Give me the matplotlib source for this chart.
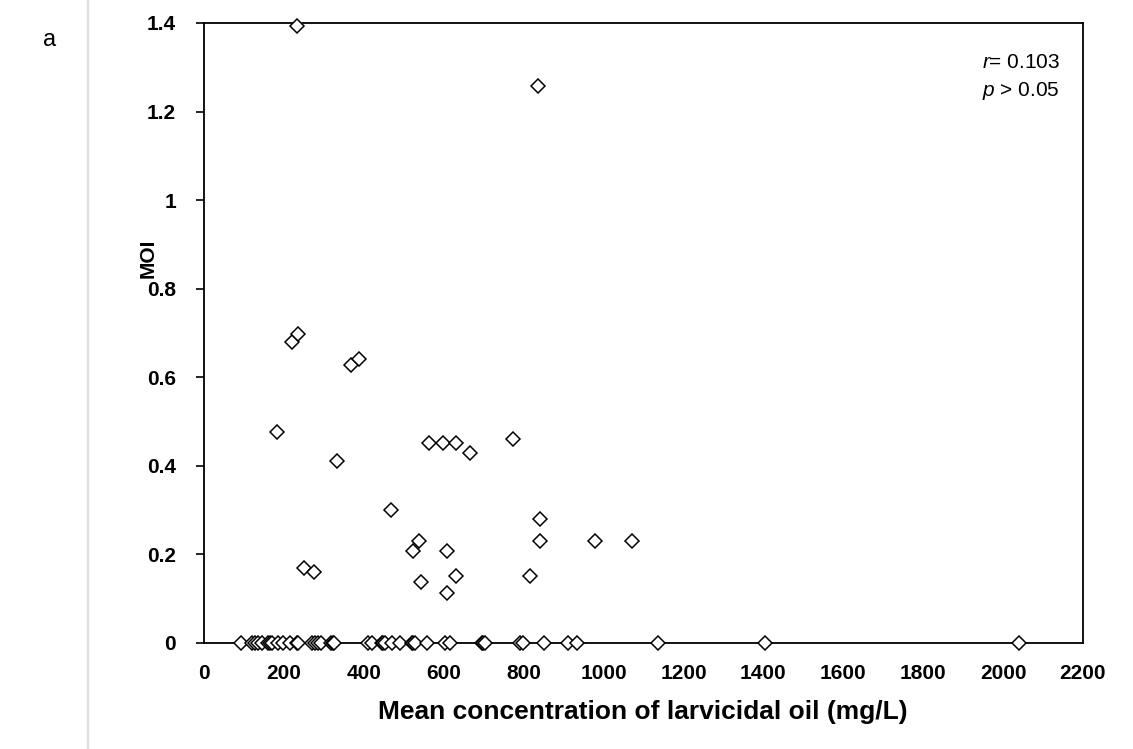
import matplotlib
matplotlib.use("Agg")
import matplotlib.pyplot as plt
from matplotlib.lines import Line2D

plt.rcParams['font.family'] = ['Liberation Sans', 'DejaVu Sans']
plt.rcParams['mathtext.fontset'] = 'custom'
plt.rcParams['mathtext.rm'] = 'Liberation Sans'
plt.rcParams['mathtext.it'] = 'Liberation Sans:italic'

# Non-zero MOI observations
conc_pos = [232, 836, 220, 235, 367, 387, 182, 334, 562, 597, 631, 667, 773,
            469, 537, 524, 607, 250, 275, 543, 631, 607, 816, 841, 841, 978, 1071]
moi_pos = [1.393, 1.258, 0.680, 0.698, 0.628, 0.641, 0.477, 0.411, 0.452, 0.452, 0.452, 0.430, 0.460,
           0.301, 0.231, 0.208, 0.208, 0.169, 0.160, 0.137, 0.151, 0.112, 0.151, 0.279, 0.231, 0.231, 0.231]

# Zero MOI observations
conc_zero = [92, 119, 128, 136, 144, 160, 165, 170, 186, 198, 215, 232, 236, 270, 278, 286, 294,
             318, 322, 325, 411, 420, 445, 449, 453, 470, 491, 520, 524, 528, 557, 603, 616,
             695, 699, 703, 791, 799, 851, 910, 934, 1137, 1405, 2040]
moi_zero = [0.0] * len(conc_zero)

xticks = [0, 200, 400, 600, 800, 1000, 1200, 1400, 1600, 1800, 2000, 2200]
yticks = [0, 0.2, 0.4, 0.6, 0.8, 1.0, 1.2, 1.4]
ytick_labels = ['0', '0.2', '0.4', '0.6', '0.8', '1', '1.2', '1.4']

W, H = 1133, 749
fig = plt.figure(figsize=(W / 100, H / 100), dpi=100)
ax = fig.add_axes([204 / W, 1 - 643 / H, (1083 - 204) / W, (643 - 23) / H])

x_all = conc_zero + conc_pos
y_all = moi_zero + moi_pos
ax.plot(x_all, y_all, linestyle='none', marker='D', markersize=7,
        markerfacecolor='white', markeredgecolor='black', markeredgewidth=1.1,
        clip_on=False, zorder=3)

ax.set_xlim(0, 2200)
ax.set_ylim(0, 1.4)
ax.set_xticks(xticks)
ax.set_xticklabels([str(t) for t in xticks], fontsize=15, fontweight='bold')
ax.set_yticks(yticks)
ax.set_yticklabels(ytick_labels, fontsize=15, fontweight='bold')
ax.tick_params(axis='x', length=0, pad=15)
ax.tick_params(axis='y', length=6, width=1.2, direction='out', pad=14)
for s in ax.spines.values():
    s.set_linewidth(1.3)
    s.set_color('black')

fig.text(643 / W, 1 - 712 / H, 'Mean concentration of larvicidal oil (mg/L)',
         fontsize=19, fontweight='bold', ha='center', va='center')
fig.text(148 / W, 1 - 258 / H, 'MOI', fontsize=15, fontweight='bold',
         rotation=90, ha='center', va='center')

ax.text(982 / W, 1 - 63 / H, r'$\it{r}$= 0.103', transform=fig.transFigure,
        fontsize=15, ha='left', va='center')
ax.text(982 / W, 1 - 91 / H, r'$\it{p}$ > 0.05', transform=fig.transFigure,
        fontsize=15, ha='left', va='center')

fig.text(50 / W, 1 - 40 / H, 'a', fontsize=17, ha='center', va='center')
fig.add_artist(Line2D([88 / W, 88 / W], [0, 1], color='#dddddd', linewidth=1.6,
                      transform=fig.transFigure))

fig.savefig('out.png', dpi=100)
